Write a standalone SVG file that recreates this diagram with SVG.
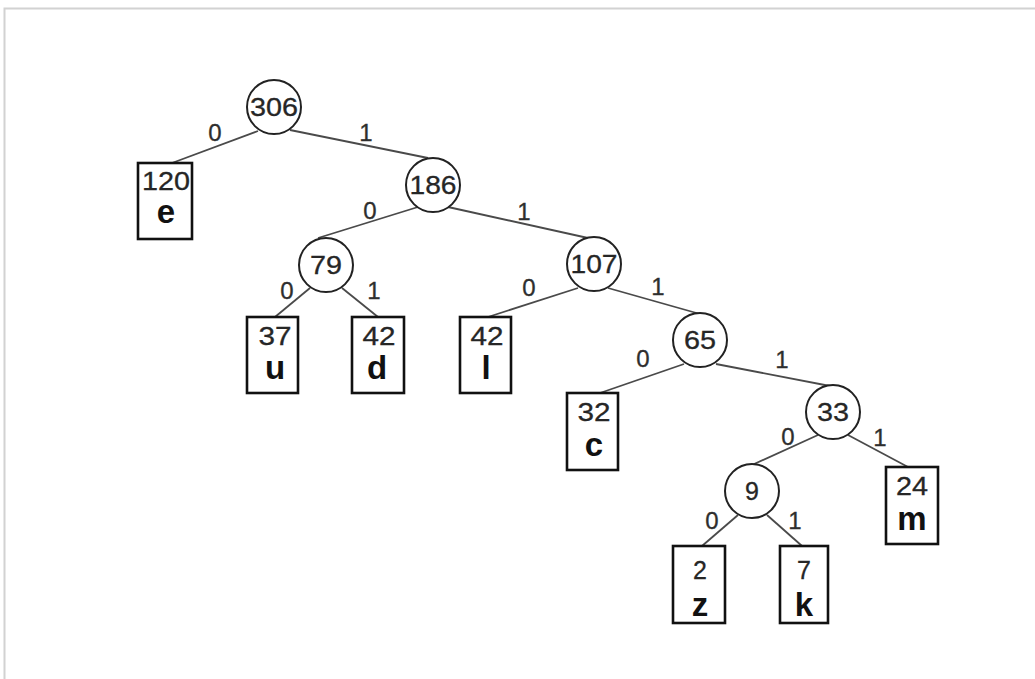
<svg xmlns="http://www.w3.org/2000/svg" width="1035" height="679" viewBox="0 0 1035 679">
  <style>
    .frame { fill: none; stroke: #d2d2d2; stroke-width: 2; }
    .edge { stroke: #4a4a4a; stroke-width: 1.8; fill: none; }
    .inner { fill: #fff; stroke: #222; stroke-width: 2; }
    .leaf { fill: #fff; stroke: #111; stroke-width: 2.6; }
    .num { font-family: "Liberation Sans", Arial, sans-serif; font-size: 25px; fill: #262626; stroke: #262626; stroke-width: 0.3; text-anchor: middle; }
    .sym { font-family: "Liberation Sans", Arial, sans-serif; font-size: 33px; font-weight: bold; fill: #111; text-anchor: middle; }
    .bit { font-family: "Liberation Sans", Arial, sans-serif; font-size: 24px; fill: #2e2e2e; stroke: #2e2e2e; stroke-width: 0.3; text-anchor: middle; }
  </style>

  <rect width="1035" height="679" fill="#fff"/>
  <rect class="frame" x="4.5" y="8.5" width="1040" height="690"/>

  <!-- branches with their bit labels -->
  <g id="connectors">
    <line class="edge" x1="258" y1="131" x2="172" y2="163"/>
    <line class="edge" x1="290" y1="130" x2="428" y2="158"/>
    <line class="edge" x1="418" y1="207" x2="318" y2="238"/>
    <line class="edge" x1="448" y1="207" x2="588" y2="238"/>
    <line class="edge" x1="310" y1="288" x2="275" y2="317"/>
    <line class="edge" x1="342" y1="288" x2="378" y2="317"/>
    <line class="edge" x1="578" y1="288" x2="488" y2="317"/>
    <line class="edge" x1="608" y1="288" x2="700" y2="314"/>
    <line class="edge" x1="684" y1="364" x2="600" y2="393"/>
    <line class="edge" x1="716" y1="364" x2="830" y2="386"/>
    <line class="edge" x1="818" y1="435" x2="752" y2="465"/>
    <line class="edge" x1="848" y1="435" x2="908" y2="467"/>
    <line class="edge" x1="738" y1="515" x2="702" y2="546"/>
    <line class="edge" x1="767" y1="515" x2="802" y2="546"/>

    <text class="bit" x="215" y="141">0</text>
    <text class="bit" x="366" y="141">1</text>
    <text class="bit" x="370" y="219">0</text>
    <text class="bit" x="524" y="220">1</text>
    <text class="bit" x="287" y="299">0</text>
    <text class="bit" x="374" y="299">1</text>
    <text class="bit" x="529" y="296">0</text>
    <text class="bit" x="658" y="295">1</text>
    <text class="bit" x="643" y="367">0</text>
    <text class="bit" x="782" y="368">1</text>
    <text class="bit" x="788" y="445">0</text>
    <text class="bit" x="880" y="446">1</text>
    <text class="bit" x="712" y="529">0</text>
    <text class="bit" x="795" y="529">1</text>
  </g>

  <!-- internal nodes -->
  <g id="n306">
    <circle class="inner" cx="274" cy="107" r="27"/>
    <text class="num" x="274" y="116" textLength="48" lengthAdjust="spacingAndGlyphs">306</text>
  </g>
  <g id="n186">
    <circle class="inner" cx="433" cy="185" r="27"/>
    <text class="num" x="433" y="194" textLength="47" lengthAdjust="spacingAndGlyphs">186</text>
  </g>
  <g id="n79">
    <circle class="inner" cx="326" cy="265" r="27"/>
    <text class="num" x="326" y="274" textLength="32" lengthAdjust="spacingAndGlyphs">79</text>
  </g>
  <g id="n107">
    <circle class="inner" cx="594" cy="264" r="27"/>
    <text class="num" x="594" y="273" textLength="47" lengthAdjust="spacingAndGlyphs">107</text>
  </g>
  <g id="n65">
    <circle class="inner" cx="700" cy="340" r="27"/>
    <text class="num" x="700" y="349" textLength="32" lengthAdjust="spacingAndGlyphs">65</text>
  </g>
  <g id="n33">
    <circle class="inner" cx="833" cy="412" r="27"/>
    <text class="num" x="833" y="421" textLength="32" lengthAdjust="spacingAndGlyphs">33</text>
  </g>
  <g id="n9">
    <circle class="inner" cx="752" cy="491" r="27"/>
    <text class="num" x="752" y="500">9</text>
  </g>

  <!-- leaves -->
  <g id="leaf-e">
    <rect class="leaf" x="138" y="163" width="54" height="76"/>
    <text class="num" x="166" y="190" textLength="48" lengthAdjust="spacingAndGlyphs">120</text>
    <text class="sym" x="166" y="223">e</text>
  </g>
  <g id="leaf-u">
    <rect class="leaf" x="247" y="317" width="51" height="76"/>
    <text class="num" x="275" y="345" textLength="33" lengthAdjust="spacingAndGlyphs">37</text>
    <text class="sym" x="275" y="379">u</text>
  </g>
  <g id="leaf-d">
    <rect class="leaf" x="352" y="317" width="52" height="76"/>
    <text class="num" x="379" y="345" textLength="33" lengthAdjust="spacingAndGlyphs">42</text>
    <text class="sym" x="377" y="379">d</text>
  </g>
  <g id="leaf-l">
    <rect class="leaf" x="460" y="317" width="51" height="76"/>
    <text class="num" x="487" y="345" textLength="33" lengthAdjust="spacingAndGlyphs">42</text>
    <text class="sym" x="486" y="379">l</text>
  </g>
  <g id="leaf-c">
    <rect class="leaf" x="567" y="393" width="51" height="77"/>
    <text class="num" x="594" y="421" textLength="33" lengthAdjust="spacingAndGlyphs">32</text>
    <text class="sym" x="594" y="456">c</text>
  </g>
  <g id="leaf-m">
    <rect class="leaf" x="886" y="467" width="52" height="77"/>
    <text class="num" x="912" y="495" textLength="32" lengthAdjust="spacingAndGlyphs">24</text>
    <text class="sym" x="912" y="530">m</text>
  </g>
  <g id="leaf-z">
    <rect class="leaf" x="673" y="546" width="52" height="77"/>
    <text class="num" x="700" y="579">2</text>
    <text class="sym" x="700" y="616">z</text>
  </g>
  <g id="leaf-k">
    <rect class="leaf" x="780" y="546" width="48" height="77"/>
    <text class="num" x="804" y="579">7</text>
    <text class="sym" x="804" y="616">k</text>
  </g>
</svg>
